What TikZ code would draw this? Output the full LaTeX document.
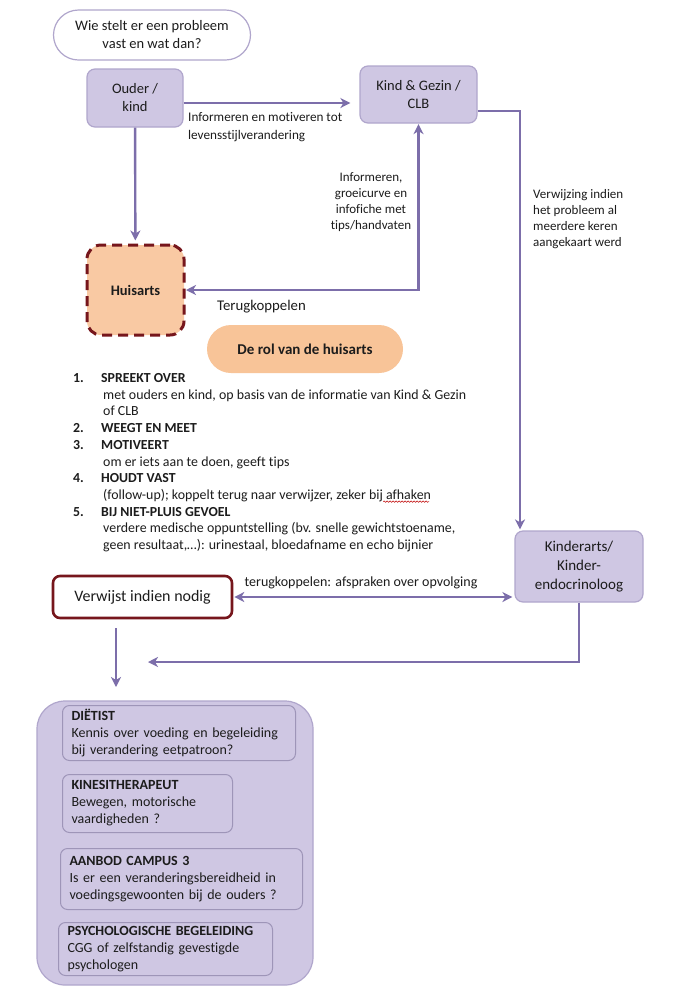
\documentclass[tikz,border=0pt]{standalone}
\usepackage{fontspec}
\setmainfont{Carlito}[Ligatures=NoCommon]
\usetikzlibrary{arrows.meta,decorations.pathmorphing}
\definecolor{boxfill}{RGB}{207,199,227}
\definecolor{boxline}{RGB}{176,166,204}
\definecolor{arrowc}{RGB}{124,110,170}
\definecolor{peach}{RGB}{249,201,163}
\definecolor{peachb}{RGB}{248,196,152}
\definecolor{darkred}{RGB}{118,22,28}
\definecolor{txt}{RGB}{28,28,28}
\newcommand{\fsz}[2]{\fontsize{#1}{#2}\selectfont}
\begin{document}
\begin{tikzpicture}[x=1pt,y=-1pt,
  pbox/.style={draw=boxline, fill=boxfill, line width=1.2pt, rounded corners=8pt, align=center, inner sep=0pt, text=txt, font=\fsz{14.5}{18}},
  innerbox/.style={draw=boxline!90!black, fill=boxfill, line width=1pt, rounded corners=7pt, align=left, inner xsep=9pt, inner ysep=0pt, text=txt, font=\fsz{14}{17}, anchor=north west},
  conn/.style={draw=arrowc, line width=2.4pt, -{Stealth[length=10pt,width=10pt,inset=3pt]}},
  dconn/.style={draw=arrowc, line width=2.4pt, {Stealth[length=10pt,width=10pt,inset=3pt]}-{Stealth[length=10pt,width=10pt,inset=3pt]}},
  lbl/.style={font=\fsz{13}{16}, inner sep=0pt, text=txt},
  li/.style={font=\fsz{13.9}{16}, inner sep=0pt, text=txt, anchor=base west},
  lib/.style={font=\fsz{13.8}{16}\bfseries, inner sep=0pt, text=txt, anchor=base west}
]
\useasboundingbox (0,0) rectangle (700,1005);
\fill[white] (0,0) rectangle (700,1005);

% top question
\node[draw=boxline, fill=white, line width=1.2pt, rounded corners=25pt, minimum width=197pt, minimum height=50pt, inner sep=0pt, align=center, font=\fsz{14.5}{18}, text=txt] (vraag) at (152,35) {Wie stelt er een probleem\\vast en wat dan?};

% main boxes
\node[pbox, minimum width=96pt, minimum height=58pt] (ouder) at (135,98) {Ouder /\\kind};
\node[pbox, minimum width=117pt, minimum height=57pt] (kind) at (418.5,94.5) {Kind \& Gezin /\\CLB};
\node[draw=darkred, fill=peach, line width=3pt, dash pattern=on 10pt off 6pt, rounded corners=14pt, minimum width=97pt, minimum height=90pt, inner sep=0pt, font=\fsz{14.5}{18}\bfseries, text=txt] (huisarts) at (135.5,290) {Huisarts};
\node[fill=peachb, rounded corners=24pt, minimum width=196pt, minimum height=48pt, inner sep=0pt, font=\fsz{15}{18}\bfseries, text=txt] (rol) at (305,349) {De rol van de huisarts};
\node[draw=darkred, fill=white, line width=2.6pt, rounded corners=7pt, minimum width=179pt, minimum height=42pt, inner sep=0pt, font=\fsz{16}{18}, text=txt] (verwijst) at (142.5,597) {Verwijst indien nodig};
\node[pbox, minimum width=128pt, minimum height=71pt, font=\fsz{15}{19}] (kinderarts) at (579,566.5) {Kinderarts/\\Kinder-\\endocrinoloog};

% labels
\node[lbl, anchor=west, align=left, font=\fsz{13.2}{18}] (l1) at (188,127) {Informeren en motiveren tot\\levensstijlverandering};
\node[lbl, align=center] (l2) at (371,202) {Informeren,\\groeicurve en\\infofiche met\\tips/handvaten};
\node[lbl, anchor=west, align=left] (l3) at (533,219) {Verwijzing indien\\het probleem al\\meerdere keren\\aangekaart werd};
\node[lbl, anchor=west, font=\fsz{14.8}{16}] (l4) at (217,307) {Terugkoppelen};
\node[lbl, font=\fsz{14}{16}] (l5) at (361,583) {terugkoppelen: afspraken over opvolging};

% list
\node[lib] (n1) at (73,382) {1.};
\node[lib] (h1) at (101,382) {SPREEKT OVER};
\node[li] (t1a) at (103,399) {met ouders en kind, op basis van de informatie van Kind \& Gezin};
\node[li] (t1b) at (103,415) {of CLB};
\node[lib] (n2) at (73,432) {2.};
\node[lib] (h2) at (101,432) {WEEGT EN MEET};
\node[lib] (n3) at (73,449) {3.};
\node[lib] (h3) at (101,449) {MOTIVEERT};
\node[li] (t3) at (103,466) {om er iets aan te doen, geeft tips};
\node[lib] (n4) at (73,482) {4.};
\node[lib] (h4) at (101,482) {HOUDT VAST};
\node[li] (t4) at (103,499) {(follow-up); koppelt terug naar verwijzer, zeker bij afhaken};
\node[lib] (n5) at (73,516) {5.};
\node[lib] (h5) at (101,516) {BIJ NIET-PLUIS GEVOEL};
\node[li] (t5a) at (103,532) {verdere medische oppuntstelling (bv. snelle gewichtstoename,};
\node[li] (t5b) at (103,549) {geen resultaat,…): urinestaal, bloedafname en echo bijnier};
\draw[red!75!black, line width=0.5pt, decorate, decoration={snake, amplitude=0.7pt, segment length=3pt}] (t4.south east) ++(-48,0) coordinate (sq1) -- ++(46,0);

% container with referrals
\node[draw=boxline, fill=boxfill, line width=1.2pt, rounded corners=28pt, minimum width=276pt, minimum height=284pt, inner sep=0pt] (cont) at (175,843) {};
\node[innerbox, minimum height=55pt, text width=215pt] (diet) at (62,705) {\textbf{DIËTIST}\\Kennis over voeding en begeleiding\\bij verandering eetpatroon?};
\node[innerbox, minimum height=58pt, text width=152pt] (kine) at (62,774) {\textbf{KINESITHERAPEUT}\\Bewegen, motorische\\vaardigheden ?};
\node[innerbox, minimum height=61pt, text width=224pt] (campus) at (60,848) {\textbf{AANBOD CAMPUS 3}\\Is er een veranderingsbereidheid in\\voedingsgewoonten bij de ouders ?};
\node[innerbox, minimum height=53pt, text width=196pt] (psy) at (58,922) {\textbf{PSYCHOLOGISCHE BEGELEIDING}\\CGG of zelfstandig gevestigde\\psychologen};

% coordinates for connectors
\coordinate (kr1) at (520,111);
\coordinate (up1) at (418.5,290);
\coordinate (kdown) at (579,662);
\coordinate (kend) at (148,662);
\coordinate (vs) at (116,628);
\coordinate (ve) at (116,687);

% connectors
\draw[conn, shorten >=9pt] (ouder.east |- 0,103) -- (kind.west |- 0,103);
\draw[conn, shorten >=3pt] (ouder) -- (huisarts);
\draw[dconn, shorten <=0.5pt, shorten >=0.5pt] (huisarts.east) -- (up1) -- (kind.south);
\draw[conn, shorten >=1pt] (kind.east |- kr1) -- (kr1) -- (kinderarts.north -| kr1);
\draw[dconn, shorten <=1pt, shorten >=2pt] (verwijst.east) -- (kinderarts.west |- verwijst.east);
\draw[conn] (kinderarts.south) -- (kdown) -- (kend);
\draw[conn] (vs) -- (ve);
\end{tikzpicture}
\end{document}
